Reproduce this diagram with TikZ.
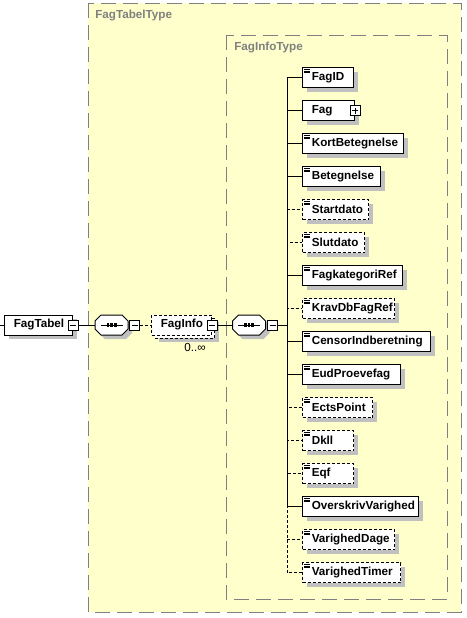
\documentclass[tikz,border=0pt]{standalone}
\usepackage{fontspec}
\setmainfont{Liberation Sans}
\usepackage{tikz}
\usetikzlibrary{shadows}

\definecolor{typefill}{RGB}{255,255,204}
\definecolor{typeline}{RGB}{128,128,128}
\definecolor{shadowgray}{RGB}{192,192,192}
\newcommand{\schemafont}{\fontsize{8.75pt}{10pt}\selectfont}

\begin{document}
\begin{tikzpicture}[x=0.75pt, y=-0.75pt,
    typebox/.style={draw=typeline, fill=typefill, line width=0.75pt, dash pattern=on 11pt off 5.5pt},
    typename/.style={anchor=west, inner sep=0pt, text=typeline, font=\schemafont\bfseries},
    elem/.style={draw, fill=white, line width=0.75pt, minimum height=15pt, inner xsep=7pt, inner ysep=0pt,
        text width=#1, align=left, anchor=west, font=\schemafont\bfseries},
    boxshadow/.style={drop shadow={shadow xshift=3.2pt, shadow yshift=-3.2pt, fill=shadowgray, opacity=1}},
    optional/.style={dash pattern=on 2.25pt off 1.5pt},
    leaf/.style={path picture={
        \foreach \d in {1.5,3.3,5.1}
          \draw[solid, line width=0.6pt] ([shift={(1.5,\d)}]path picture bounding box.north west) -- ++(6,0);}},
    complex/.style={},
    expander/.style={draw, solid, fill=white, line width=0.75pt, minimum size=7.5pt, inner sep=0pt,
        path picture={\draw ([xshift=1.5pt]path picture bounding box.west) -- ([xshift=-1.5pt]path picture bounding box.east);}},
    collapsed/.style={expander,
        path picture={\draw ([xshift=1.5pt]path picture bounding box.west) -- ([xshift=-1.5pt]path picture bounding box.east)
          ([yshift=1.5pt]path picture bounding box.south) -- ([yshift=-1.5pt]path picture bounding box.north);}},
    seqspot/.style={minimum width=24.75pt, minimum height=15pt, inner sep=0pt},
    compositor/.pic={
        \fill[shadowgray, shift={(4,4)}] (-16.5,-4) -- (-10.5,-10) -- (10.5,-10) -- (16.5,-4)
          -- (16.5,4) -- (10.5,10) -- (-10.5,10) -- (-16.5,4) -- cycle;
        \filldraw[fill=white, line width=0.75pt] (-16.5,-4) -- (-10.5,-10) -- (10.5,-10) -- (16.5,-4)
          -- (16.5,4) -- (10.5,10) -- (-10.5,10) -- (-16.5,4) -- cycle;
        \draw[line width=0.75pt] (-11,0) -- (11,0);
        \foreach \o in {-3.6,0,3.6} \fill (\o-1.4,-2) rectangle (\o+1.4,2);}
  ]
    \useasboundingbox (0,0) rectangle (467,618);

    \draw[typebox] (88,3) rectangle (461,612);
    \node[typename] (tabeltype) at (95,16) {FagTabelType};
    \draw[typebox] (226,35) rectangle (447,599);
    \node[typename] (infotype) at (234,48) {FagInfoType};

    \coordinate (entry) at (0,325);
    \node[elem=37pt, boxshadow] (FagTabel) at (4,325) {FagTabel};
    \node[expander] (FagTabelExp) at (FagTabel.east) {};
    \node[seqspot] (SeqTabel) at (111.5,325) {};
    \pic at (SeqTabel) {compositor};
    \node[expander] (SeqTabelExp) at (134.5,325) {};
    \node[elem=31pt, optional, boxshadow] (FagInfoStack) at (154,328) {};
    \node[elem=31pt, optional] (FagInfo) at (151,325) {FagInfo};
    \node[expander] (FagInfoExp) at (FagInfo.east) {};
    \node[inner sep=0pt, font=\schemafont] (FagInfoOccurs) at (195,347.5) {0..∞};
    \node[seqspot] (SeqInfo) at (249,325) {};
    \pic at (SeqInfo) {compositor};
    \node[expander] (SeqInfoExp) at (272.5,325) {};
    \coordinate (fork) at (287,325);

    \draw[line width=0.75pt] (entry) -- (FagTabel);
    \draw[line width=0.75pt] (FagTabelExp) -- (SeqTabel);
    \draw[line width=0.75pt, optional] (SeqTabelExp) -- (FagInfo);
    \draw[line width=0.75pt] (FagInfoExp) -- (SeqInfo);
    \draw[line width=0.75pt] (SeqInfoExp) -- (fork);

    \foreach \nm/\w/\req/\kind [count=\i from 0] in {FagID/51/solid/leaf, Fag/52/solid/complex,
        KortBetegnelse/101/solid/leaf, Betegnelse/78/solid/leaf, Startdato/66/optional/leaf,
        Slutdato/62/optional/leaf, FagkategoriRef/100/solid/leaf, KravDbFagRef/92/optional/leaf,
        CensorIndberetning/128/solid/leaf, EudProevefag/98/solid/leaf, EctsPoint/70/optional/leaf,
        Dkll/51/optional/leaf, Eqf/51/optional/leaf, OverskrivVarighed/116/solid/leaf,
        VarighedDage/92/optional/leaf, VarighedTimer/98/optional/leaf} {
      \pgfmathsetmacro\tw{0.75*\w-14}
      \node[elem=\tw pt, boxshadow, \req, \kind] (\nm) at (302,77.7+33*\i) {\nm};
      \draw[line width=0.75pt, \req] (fork) |- (\nm.west);
    }
    \node[collapsed] (FagExp) at (Fag.east) {};
\end{tikzpicture}
\end{document}
